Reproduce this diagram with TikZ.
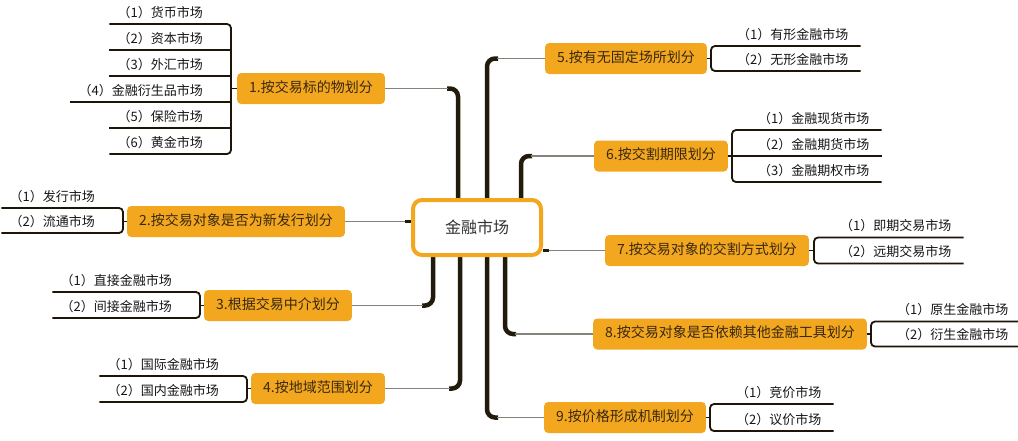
\documentclass[tikz,border=0pt]{standalone}
\usepackage{fontspec}
\newfontfamily\cjk{Noto Sans CJK SC}
\usetikzlibrary{calc}
\definecolor{orng}{HTML}{F2A71E}
\definecolor{trunkc}{HTML}{221B0B}
\definecolor{twigc}{HTML}{85847A}
\definecolor{leafc}{HTML}{1C1508}
\definecolor{leaftext}{HTML}{151515}
\definecolor{branchtext}{HTML}{3A2810}
\definecolor{centertext}{HTML}{333333}
\pgfdeclarelayer{bg}
\pgfsetlayers{bg,main}
\newcommand\lleaftxt[1]{\hspace*{8pt}#1\hspace*{28pt}}
\newcommand\rleaftxt[1]{\hspace*{26pt}#1\hspace*{12pt}}
\begin{document}
\begin{tikzpicture}[x=1pt,y=-1pt,
  leaf/.style={inner xsep=0pt, inner ysep=3.5pt, text height=9.5pt, text depth=3pt,
    font=\cjk\fontsize{13}{15}\selectfont, text=leaftext},
  lleaf/.style={leaf, anchor=south east},
  rleaf/.style={leaf, anchor=south west},
  branch/.style={fill=orng, rounded corners=4pt, inner xsep=12pt, inner ysep=0pt,
    minimum height=31pt, text height=10.5pt, text depth=3pt,
    font=\cjk\fontsize{14}{16}\selectfont, text=branchtext},
  trunk/.style={draw=trunkc, line width=4.5pt, rounded corners=8pt},
  twig/.style={draw=twigc, line width=1.8pt},
  leafline/.style={draw=leafc, line width=1.8pt, rounded corners=4pt},
  midline/.style={draw=leafc, line width=1.8pt},
]
\useasboundingbox (0,0) rectangle (1018,440);

% centre
\node[draw=orng, line width=4pt, fill=white, rounded corners=9pt,
  minimum width=128pt, minimum height=55pt,
  font=\cjk\fontsize{16}{18}\selectfont, text=centertext] (c) at (477,227.5) {金融市场};

% branch nodes
\node[branch, anchor=west] (b1) at (237,88.5) {1.按交易标的物划分};
\node[branch, anchor=west] (b2) at (127,221.5) {2.按交易对象是否为新发行划分};
\node[branch, anchor=west] (b3) at (204,305.5) {3.根据交易中介划分};
\node[branch, anchor=west] (b4) at (251,388.5) {4.按地域范围划分};
\node[branch, anchor=east] (b5) at (707,58.5) {5.按有无固定场所划分};
\node[branch, anchor=east] (b6) at (728,156) {6.按交割期限划分};
\node[branch, anchor=east] (b7) at (809,250.5) {7.按交易对象的交割方式划分};
\node[branch, anchor=east] (b8) at (867,334) {8.按交易对象是否依赖其他金融工具划分};
\node[branch, anchor=east] (b9) at (706,417.5) {9.按价格形成机制划分};

% trunk x positions
\coordinate (k1) at (458,0);
\coordinate (k5) at (487,0);
\coordinate (k6) at (521,0);
\coordinate (k3) at (433,0);
\coordinate (k4) at (460,0);
\coordinate (k9) at (487,0);
\coordinate (k8) at (505,0);

\begin{pgfonlayer}{bg}
\draw[trunk] (c.north -| k1) |- ($(k1 |- b1.east)+(-11,0)$);
\draw[twig] ($(k1 |- b1.east)+(-10,0)$) -- (b1.east);
\draw[trunk] (c.north -| k5) |- ($(k5 |- b5.west)+(11,0)$);
\draw[twig] ($(k5 |- b5.west)+(10,0)$) -- (b5.west);
\draw[trunk] (c.north -| k6) |- ($(k6 |- b6.west)+(11,0)$);
\draw[twig] ($(k6 |- b6.west)+(10,0)$) -- (b6.west);
\draw[trunk] (c.south -| k3) |- ($(k3 |- b3.east)+(-11,0)$);
\draw[twig] ($(k3 |- b3.east)+(-10,0)$) -- (b3.east);
\draw[trunk] (c.south -| k4) |- ($(k4 |- b4.east)+(-11,0)$);
\draw[twig] ($(k4 |- b4.east)+(-10,0)$) -- (b4.east);
\draw[trunk] (c.south -| k9) |- ($(k9 |- b9.west)+(11,0)$);
\draw[twig] ($(k9 |- b9.west)+(10,0)$) -- (b9.west);
\draw[trunk] (c.south -| k8) |- ($(k8 |- b8.west)+(11,0)$);
\draw[twig] ($(k8 |- b8.west)+(10,0)$) -- (b8.west);
\draw[twig] (b2.east) -- (b2.east -| c.west);
\draw[draw=trunkc, line width=2.5pt] ($(b2.east -| c.west)+(-6,0)$) -- (b2.east -| c.west);
\draw[twig] (c.east |- b7.west) -- (b7.west);
\draw[draw=trunkc, line width=2.5pt] (c.east |- b7.west) -- ($(c.east |- b7.west)+(6,0)$);
\end{pgfonlayer}

% group 1
\node[lleaf] (a1) at (231,24) {\lleaftxt{（1）货币市场}};
\node[lleaf] (a2) at (231,50) {\lleaftxt{（2）资本市场}};
\node[lleaf] (a3) at (231,76) {\lleaftxt{（3）外汇市场}};
\node[lleaf] (a4) at (231,102) {\lleaftxt{（4）金融衍生品市场}};
\node[lleaf] (a5) at (231,128) {\lleaftxt{（5）保险市场}};
\node[lleaf] (a6) at (231,154) {\lleaftxt{（6）黄金市场}};
\draw[leafline] (a1.south west) -- (a1.south east) -- (a6.south east) -- (a6.south west);
\foreach \n in {a2,a3,a4,a5} \draw[midline] (\n.south west) -- (\n.south east);
\draw[midline] (b1.west) -- (b1.west -| a1.east);

% group 2
\node[lleaf] (p1) at (123,208) {\lleaftxt{（1）发行市场}};
\node[lleaf] (p2) at (123,233) {\lleaftxt{（2）流通市场}};
\draw[leafline] (p1.south west) -- (p1.south east) -- (p2.south east) -- (p2.south west);
\draw[midline] (b2.west) -- (b2.west -| p1.east);

% group 3
\node[lleaf] (q1) at (200,292) {\lleaftxt{（1）直接金融市场}};
\node[lleaf] (q2) at (200,318) {\lleaftxt{（2）间接金融市场}};
\draw[leafline] (q1.south west) -- (q1.south east) -- (q2.south east) -- (q2.south west);
\draw[midline] (b3.west) -- (b3.west -| q1.east);

% group 4
\node[lleaf] (r1) at (247,376) {\lleaftxt{（1）国际金融市场}};
\node[lleaf] (r2) at (247,402) {\lleaftxt{（2）国内金融市场}};
\draw[leafline] (r1.south west) -- (r1.south east) -- (r2.south east) -- (r2.south west);
\draw[midline] (b4.west) -- (b4.west -| r1.east);

% group 5
\node[rleaf] (e1) at (711,46) {\rleaftxt{（1）有形金融市场}};
\node[rleaf] (e2) at (711,71) {\rleaftxt{（2）无形金融市场}};
\draw[leafline] (e1.south east) -- (e1.south west) -- (e2.south west) -- (e2.south east);
\draw[midline] (b5.east) -- (b5.east -| e1.west);

% group 6
\node[rleaf] (f1) at (732,130) {\rleaftxt{（1）金融现货市场}};
\node[rleaf] (f2) at (732,156) {\rleaftxt{（2）金融期货市场}};
\node[rleaf] (f3) at (732,182) {\rleaftxt{（3）金融期权市场}};
\draw[leafline] (f1.south east) -- (f1.south west) -- (f3.south west) -- (f3.south east);
\draw[midline] (f2.south west) -- (f2.south east);
\draw[midline] (b6.east) -- (b6.east -| f1.west);

% group 7
\node[rleaf] (g1) at (814,237.5) {\rleaftxt{（1）即期交易市场}};
\node[rleaf] (g2) at (814,263.5) {\rleaftxt{（2）远期交易市场}};
\draw[leafline] (g1.south east) -- (g1.south west) -- (g2.south west) -- (g2.south east);
\draw[midline] (b7.east) -- (b7.east -| g1.west);

% group 8
\node[rleaf] (h1) at (871,321.5) {\rleaftxt{（1）原生金融市场}};
\node[rleaf] (h2) at (871,346.5) {\rleaftxt{（2）衍生金融市场}};
\draw[leafline] (h1.south east) -- (h1.south west) -- (h2.south west) -- (h2.south east);
\draw[midline] (b8.east) -- (b8.east -| h1.west);

% group 9
\node[rleaf] (i1) at (710,404) {\rleaftxt{（1）竞价市场}};
\node[rleaf] (i2) at (710,431) {\rleaftxt{（2）议价市场}};
\draw[leafline] (i1.south east) -- (i1.south west) -- (i2.south west) -- (i2.south east);
\draw[midline] (b9.east) -- (b9.east -| i1.west);
\end{tikzpicture}
\end{document}
